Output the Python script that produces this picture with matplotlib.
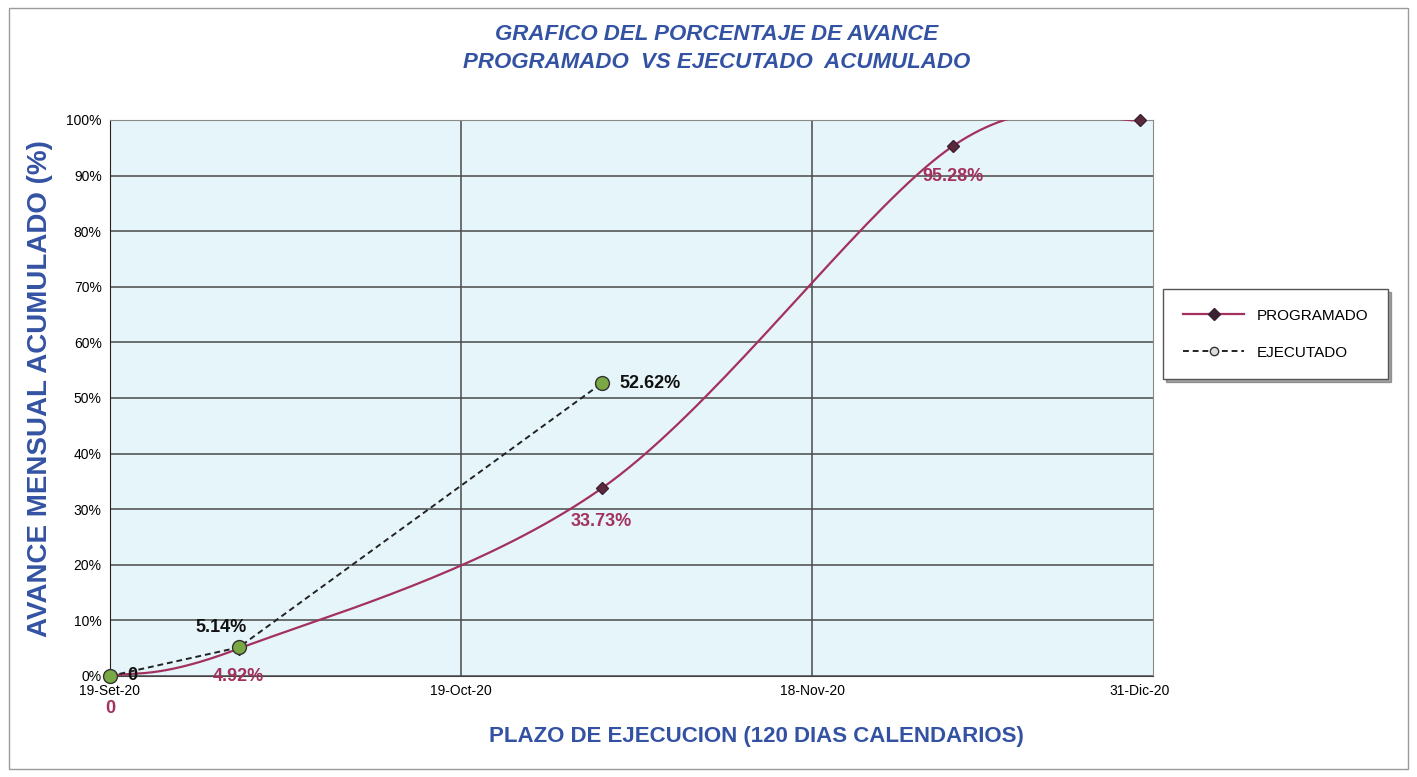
#!/usr/bin/env python

import numpy as np
import matplotlib
matplotlib.use('Agg')
import matplotlib.pyplot as plt
from matplotlib.patches import Rectangle

# dias desde el inicio (posicion en el eje)
dias_prog = [0, 11, 42, 72, 88]
programado = [0.0, 4.92, 33.73, 95.28, 100.0]
dias_ejec = [0, 11, 42]
ejecutado = [0.0, 5.14, 52.62]
tick_dias = [0, 30, 60, 88]
tick_labels = ['19-Set-20', '19-Oct-20', '18-Nov-20', '31-Dic-20']

AZUL = '#3352a3'
ROSA = '#a3315e'
FONT = ['Liberation Sans Narrow', 'Liberation Sans', 'DejaVu Sans']


def suavizar(x, y, n=40):
    # curva suavizada tipo Excel (Bezier con tension 1/6)
    p = np.column_stack([x, y]).astype(float)
    p = np.vstack([p[0], p, p[-1]])
    out = []
    t = np.linspace(0, 1, n)[:, None]
    for i in range(1, len(p) - 2):
        p0, p1 = p[i], p[i + 1]
        c1 = p0 + (p[i + 1] - p[i - 1]) / 6
        c2 = p1 - (p[i + 2] - p[i]) / 6
        seg = ((1 - t) ** 3) * p0 + 3 * ((1 - t) ** 2) * t * c1 + 3 * (1 - t) * t ** 2 * c2 + t ** 3 * p1
        out.append(seg)
    s = np.vstack(out)
    return s[:, 0], s[:, 1]


def main():
    plt.rcParams['font.family'] = FONT
    fig = plt.figure(figsize=(14.17, 7.77), dpi=100)
    fig.patches.append(Rectangle((0.006, 0.01), 0.988, 0.98, transform=fig.transFigure,
                                 fill=False, edgecolor='#9a9a9a', lw=1))
    ax = fig.add_axes([0.0776, 0.13, 0.736, 0.7156])
    ax.set_facecolor('#e6f5f9')

    sx, sy = suavizar(dias_prog, programado)
    ax.plot(sx, sy, color=ROSA, lw=1.6, zorder=3)
    ax.plot(dias_prog, programado, linestyle='none', marker='D', ms=6,
            color='#5a2a3c', markeredgecolor='#3a2030', zorder=4, clip_on=False)
    ax.plot(dias_ejec, ejecutado, color='#222222', lw=1.4, linestyle=(0, (3, 2)),
            marker='o', ms=10, markerfacecolor='#79a845', markeredgecolor='#333333', zorder=5,
            clip_on=False)

    ax.plot([], [], color=ROSA, lw=1.6, marker='D', ms=6, markerfacecolor='#3a2030',
            markeredgecolor='#3a2030', label='PROGRAMADO')
    ax.plot([], [], color='#222222', lw=1.4, linestyle=(0, (3, 2)), marker='o', ms=6,
            markerfacecolor='#dddddd', markeredgecolor='#333333', label='EJECUTADO')

    ax.set_xlim(0, 89.1)
    ax.set_ylim(0, 100)
    ax.set_yticks(range(0, 101, 10))
    ax.set_yticklabels([f'{v}%' for v in range(0, 101, 10)], fontsize=10)
    ax.set_xticks(tick_dias)
    ax.set_xticklabels(tick_labels, fontsize=10)
    ax.tick_params(length=0, pad=6)
    ax.grid(True, color='#4a4a4a', lw=1.1)
    ax.xaxis.get_gridlines()[-1].set_visible(False)
    ax.set_axisbelow(True)
    for s in ax.spines.values():
        s.set_color('#8a8a8a')
    ax.spines['left'].set_color('#222222')
    ax.spines['bottom'].set_color('#444444')

    # etiquetas de datos
    lab = dict(fontweight='bold', fontsize=13)
    ax.text(dias_prog[0], -5.8, '0', color=ROSA, ha='center', va='center', zorder=1, **lab)
    ax.text(dias_prog[1], programado[1] - 5, f'{programado[1]:.2f}%', color=ROSA, ha='center', va='center', **lab)
    ax.text(dias_prog[2], programado[2] - 6, f'{programado[2]:.2f}%', color=ROSA, ha='center', va='center', **lab)
    ax.text(dias_prog[3], programado[3] - 5.5, f'{programado[3]:.2f}%', color=ROSA, ha='center', va='center', **lab)
    ax.text(1.9, 0, '0', color='#111111', ha='center', va='center', **lab)
    ax.text(dias_ejec[1] - 1.5, ejecutado[1] + 3.5, f'{ejecutado[1]:.2f}%', color='#111111', ha='center', va='center', **lab)
    ax.text(dias_ejec[2] + 1.5, ejecutado[2], f'{ejecutado[2]:.2f}%', color='#111111', ha='left', va='center', **lab)

    fig.text(0.506, 0.955, 'GRAFICO DEL PORCENTAJE DE AVANCE', ha='center', va='center',
             color=AZUL, fontsize=16, fontweight='bold', fontstyle='italic')
    fig.text(0.506, 0.919, 'PROGRAMADO  VS EJECUTADO  ACUMULADO', ha='center', va='center',
             color=AZUL, fontsize=16, fontweight='bold', fontstyle='italic')
    fig.text(0.534, 0.052, 'PLAZO DE EJECUCION (120 DIAS CALENDARIOS)', ha='center', va='center',
             color=AZUL, fontsize=16, fontweight='bold')
    fig.text(0.028, 0.5, 'AVANCE MENSUAL ACUMULADO (%)', ha='center', va='center', rotation=90,
             color=AZUL, fontsize=20, fontweight='bold')

    leg = ax.legend(loc='center left', bbox_to_anchor=(0.821, 0.57), bbox_transform=fig.transFigure,
                    frameon=True, fancybox=False, shadow=True, fontsize=11, labelspacing=1.5,
                    borderpad=1.3, handlelength=4, borderaxespad=0)
    leg.get_frame().set_edgecolor('#555555')

    fig.savefig('out.png', dpi=100, facecolor='white')


if __name__ == '__main__':
    main()
